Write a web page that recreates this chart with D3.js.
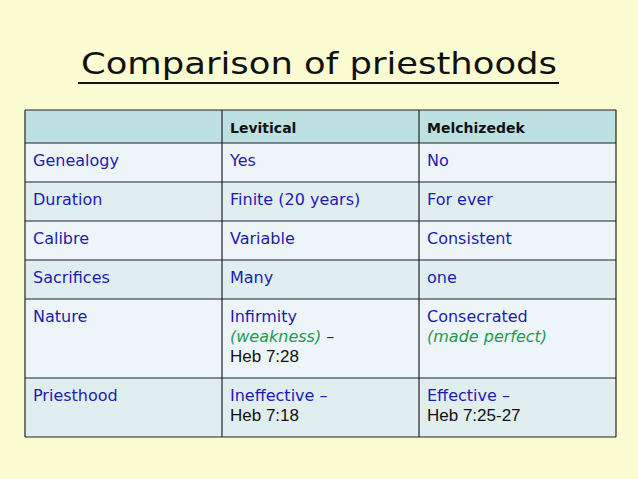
<!DOCTYPE html>
<html><head><meta charset="utf-8">
<script src="https://cdn.jsdelivr.net/npm/d3@7"></script>
<style>body{margin:0;background:#fcfcd2;}</style>
</head><body>
<svg id="chart" width="638" height="479"></svg>
<script>
// table content: each cell is lines, each line is [text, kind] pieces
var title = "Comparison of priesthoods";
var headers = ["", "Levitical", "Melchizedek"];
var attributes = ["Genealogy", "Duration", "Calibre", "Sacrifices", "Nature", "Priesthood"];
var levitical = [
  [[["Yes","b"]]],
  [[["Finite (20 years)","b"]]],
  [[["Variable","b"]]],
  [[["Many","b"]]],
  [[["Infirmity","b"]], [["(weakness)","g"],[" \u2013","b"]], [["Heb 7:28","k"]]],
  [[["Ineffective \u2013","b"]], [["Heb 7:18","k"]]]
];
var melchizedek = [
  [[["No","b"]]],
  [[["For ever","b"]]],
  [[["Consistent","b"]]],
  [[["one","b"]]],
  [[["Consecrated","b"]], [["(made perfect)","g"]]],
  [[["Effective \u2013","b"]], [["Heb 7:25-27","k"]]]
];
var rowLines = [1, 1, 1, 1, 3, 2];

var svg = d3.select("#chart");
var font = "'DejaVu Sans',sans-serif";
var colors = {b: "#1c1cb0", g: "#1e9a55", k: "#111"};

svg.append("rect").attr("width", 638).attr("height", 479).attr("fill", "#fcfcd2");

svg.append("text").attr("x", 319).attr("y", 74).attr("text-anchor", "middle")
  .attr("font-family", font).attr("font-size", 31).attr("fill", "#111")
  .attr("textLength", 476).attr("lengthAdjust", "spacingAndGlyphs").text(title);
svg.append("line").attr("x1", 78).attr("x2", 559).attr("y1", 83).attr("y2", 83)
  .attr("stroke", "#111").attr("stroke-width", 2);

var colX = [25, 222, 419, 616];
var headH = 33, lineH = 20, padH = 19;
var rowY = [110, 110 + headH];
rowLines.forEach(function(n, i) { rowY.push(rowY[i + 1] + n * lineH + padH); });

var cells = [];
cells.push(headers.map(function(h) { return [[[h, "k"]]]; }));
attributes.forEach(function(a, i) {
  cells.push([[[[a, "b"]]], levitical[i], melchizedek[i]]);
});
var fills = ["#bde0e3", "#eef5f8", "#e1eef0"];

var rows = svg.selectAll("g.row").data(cells).enter().append("g").attr("class", "row");
rows.append("rect").attr("x", colX[0]).attr("y", function(d, i) { return rowY[i]; })
  .attr("width", colX[3] - colX[0])
  .attr("height", function(d, i) { return rowY[i + 1] - rowY[i]; })
  .attr("fill", function(d, i) { return i === 0 ? fills[0] : fills[1 + (i + 1) % 2]; });

rows.each(function(row, ri) {
  var g = d3.select(this);
  row.forEach(function(cell, ci) {
    cell.forEach(function(line, li) {
      var tx = g.append("text").attr("x", colX[ci] + 8)
        .attr("y", rowY[ri] + (ri === 0 ? 23 : 23 + li * lineH))
        .attr("font-family", font).attr("font-size", ri === 0 ? 14 : 16)
        .attr("font-weight", ri === 0 ? "bold" : "normal");
      line.forEach(function(p) {
        tx.append("tspan").text(p[0]).attr("fill", colors[p[1]])
          .attr("font-style", p[1] === "g" ? "italic" : "normal")
          .attr("font-family", p[1] === "k" && ri > 0 ? "'Liberation Sans',Arial,sans-serif" : font)
          .attr("font-size", p[1] === "k" && ri > 0 ? 17 : null);
      });
    });
  });
});

// grid lines
svg.selectAll("line.h").data(rowY).enter().append("line")
  .attr("x1", colX[0]).attr("x2", colX[3]).attr("y1", function(d) { return d; }).attr("y2", function(d) { return d; })
  .attr("stroke", "#222").attr("stroke-width", 1.2);
svg.selectAll("line.v").data(colX).enter().append("line")
  .attr("y1", rowY[0]).attr("y2", rowY[rowY.length - 1]).attr("x1", function(d) { return d; }).attr("x2", function(d) { return d; })
  .attr("stroke", "#222").attr("stroke-width", 1.2);
</script>
</body></html>
